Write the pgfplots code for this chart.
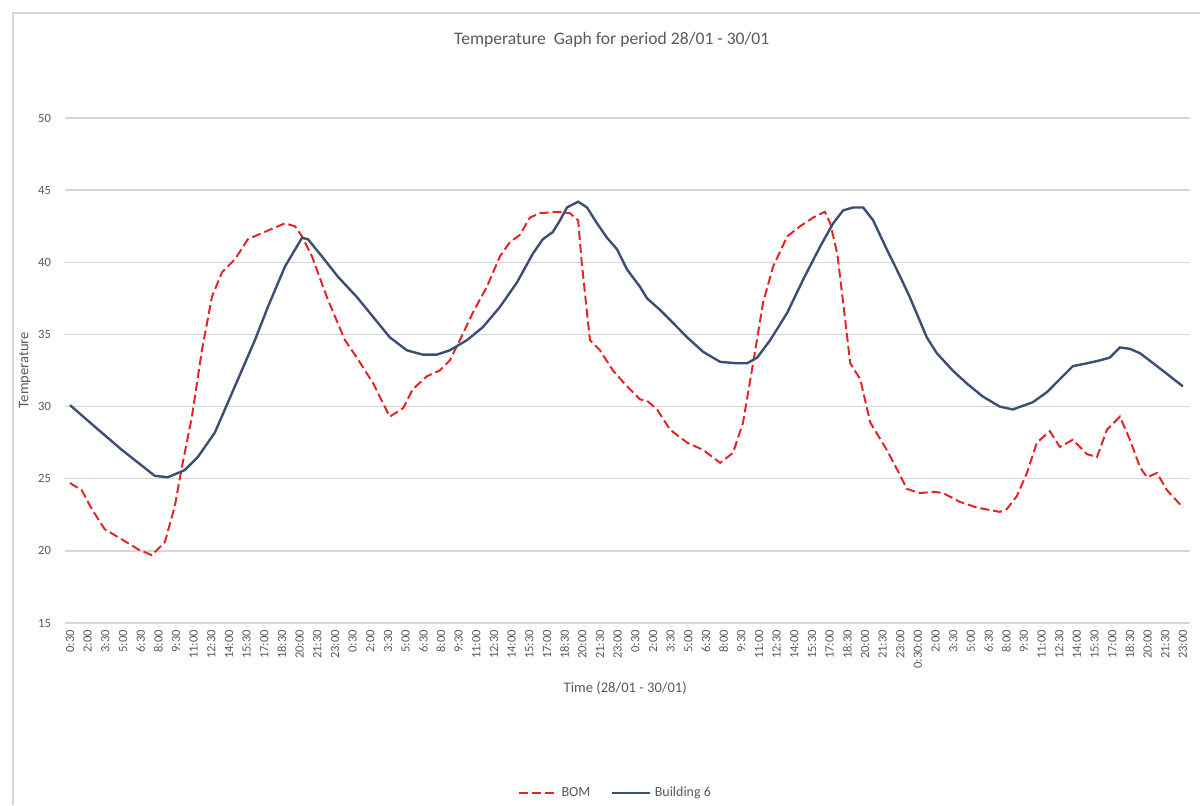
\documentclass[border=0pt]{standalone}
\usepackage{pgfplots}
\pgfplotsset{compat=1.18}
\usepackage{pgfplotstable}
\usepackage{fontspec}
\setmainfont{Carlito}
\definecolor{bomred}{RGB}{226,38,40}
\definecolor{bldblue}{RGB}{60,78,116}
\definecolor{gridc}{RGB}{214,214,214}
\definecolor{txt}{RGB}{89,89,89}

\pgfplotstableread{
t v
0 30.1
4.8 28.4
8.8 27.0
11.6 26.1
14.4 25.2
16.6 25.1
19.5 25.6
21.7 26.5
24.6 28.2
28.0 31.4
31.4 34.6
33.6 36.9
36.5 39.7
39.4 41.7
40.4 41.6
42.8 40.4
45.5 39.0
48.7 37.6
51.5 36.2
54.3 34.8
57.2 33.9
59.9 33.6
62.3 33.6
64.5 33.9
67.4 34.6
70.1 35.5
73.0 36.9
75.9 38.6
78.6 40.6
80.3 41.6
82.0 42.1
83.2 42.9
84.4 43.8
86.3 44.2
87.8 43.8
89.5 42.7
91.2 41.7
92.9 40.9
94.6 39.5
96.8 38.3
98.0 37.5
100.2 36.7
102.4 35.8
104.8 34.8
107.5 33.8
110.4 33.1
113.3 33.0
115.0 33.0
116.7 33.4
118.9 34.6
121.8 36.5
124.5 38.8
127.4 41.1
129.6 42.7
131.3 43.6
133.0 43.8
134.7 43.8
136.4 42.9
138.7 40.9
140.4 39.5
142.6 37.6
145.5 34.8
147.2 33.7
149.9 32.5
152.3 31.6
155.0 30.7
157.9 30.0
160.1 29.8
163.5 30.3
165.9 31.0
168.1 31.9
170.3 32.8
172.7 33.0
174.9 33.2
176.6 33.4
178.3 34.1
180.0 34.0
181.7 33.7
184.6 32.8
186.8 32.1
189 31.4
}\bldtable

\pgfplotstableread{
t v
0 24.7
2.0 24.2
3.7 22.9
5.9 21.5
8.8 20.8
11.6 20.1
13.9 19.7
16.1 20.6
17.8 23.1
19.0 25.8
20.7 29.3
22.4 33.9
24.1 37.6
25.8 39.3
28.0 40.2
30.2 41.6
33.6 42.2
36.5 42.7
38.2 42.5
39.4 41.8
41.1 40.4
43.8 37.4
46.7 34.6
48.7 33.4
51.5 31.6
54.3 29.3
56.6 29.9
58.2 31.2
60.6 32.1
62.8 32.5
64.5 33.2
66.2 34.6
68.4 36.5
70.8 38.3
73.0 40.4
74.7 41.4
76.4 41.9
78.1 43.1
79.8 43.4
82.7 43.5
84.9 43.4
86.3 42.9
86.9 40.0
87.8 36.5
88.3 34.6
90.0 33.9
92.2 32.5
94.6 31.4
96.8 30.5
98.0 30.4
99.7 29.8
101.9 28.4
104.8 27.5
107.5 27.0
110.4 26.1
112.6 26.8
114.3 28.9
116.0 33.0
117.7 37.2
119.4 39.7
121.8 41.8
124.0 42.5
126.2 43.1
128.2 43.5
129.1 42.7
130.3 40.6
131.3 37.2
132.5 33.0
134.2 31.9
135.9 28.9
138.7 27.0
140.9 25.3
142.1 24.3
144.3 24.0
146.6 24.1
148.3 24.0
151.1 23.4
154.0 23.0
157.9 22.7
159.1 22.9
160.8 23.8
162.5 25.4
164.2 27.5
166.4 28.3
168.1 27.2
170.3 27.7
172.7 26.7
174.4 26.5
176.1 28.4
178.3 29.3
180.0 27.7
181.7 25.8
182.9 25.1
184.6 25.4
186.3 24.2
189 23.0
}\bomtable

\begin{document}
\begin{tikzpicture}
\useasboundingbox (0pt,0pt) rectangle (600pt,402.5pt);
\draw[gridc, line width=0.7pt] (6.5pt,0pt) -- (6.5pt,396pt) -- (600pt,396pt);
\begin{axis}[
  at={(32.5pt,91pt)}, anchor=south west,
  scale only axis, width=562.5pt, height=252.5pt,
  xmin=-0.85, xmax=190.2, ymin=15, ymax=50,
  ytick={15,20,...,50},
  xtick={0,3,...,189},
  xticklabels={0:30,2:00,3:30,5:00,6:30,8:00,9:30,11:00,12:30,14:00,15:30,17:00,18:30,20:00,21:30,23:00,
               0:30,2:00,3:30,5:00,6:30,8:00,9:30,11:00,12:30,14:00,15:30,17:00,18:30,20:00,21:30,23:00,
               0:30,2:00,3:30,5:00,6:30,8:00,9:30,11:00,12:30,14:00,15:30,17:00,18:30,20:00,21:30,23:00,
               0:30:00,2:00,3:30,5:00,6:30,8:00,9:30,11:00,12:30,14:00,15:30,17:00,18:30,20:00,21:30,23:00},
  /pgf/number format/assume math mode=true,
  ymajorgrids, grid style={gridc, line width=0.7pt},
  axis line style={draw=none},
  major tick length=0pt,
  tick label style={font=\fontsize{6.3}{7}\selectfont, text=txt},
  yticklabel style={xshift=-3.5pt},
  xticklabel style={rotate=90, anchor=east},
  every axis title shift=0pt,
  title={Temperature~ Gaph for period 28/01 - 30/01},
  title style={font=\fontsize{8.8}{10}\selectfont, text=txt, at={(axis description cs:0.486,1.1545)}, anchor=center},
  xlabel={Time (28/01 - 30/01)},
  xlabel style={font=\fontsize{7.3}{8}\selectfont, text=txt, at={(axis description cs:0.498,-0.1287)}, anchor=center},
  ylabel={Temperature},
  ylabel style={font=\fontsize{7.3}{8}\selectfont, text=txt, at={(axis description cs:-0.0356,0.501)}, anchor=center},
  legend style={draw=none, fill=none, at={(axis description cs:0.49,-0.3366)}, anchor=center,
    font=\fontsize{7}{8}\selectfont, text=txt,
    /tikz/every even column/.append style={column sep=8pt}},
  legend columns=2,
  legend image code/.code={\draw[#1] (0pt,0pt) -- (19pt,0pt);},
]
\addplot[bomred, line width=1pt, dash pattern=on 4.5pt off 2pt] table[x=t, y=v] {\bomtable};
\addlegendentry{BOM}
\addplot[bldblue, line width=1.2pt] table[x=t, y=v] {\bldtable};
\addlegendentry{Building 6}
\end{axis}
\end{tikzpicture}
\end{document}
